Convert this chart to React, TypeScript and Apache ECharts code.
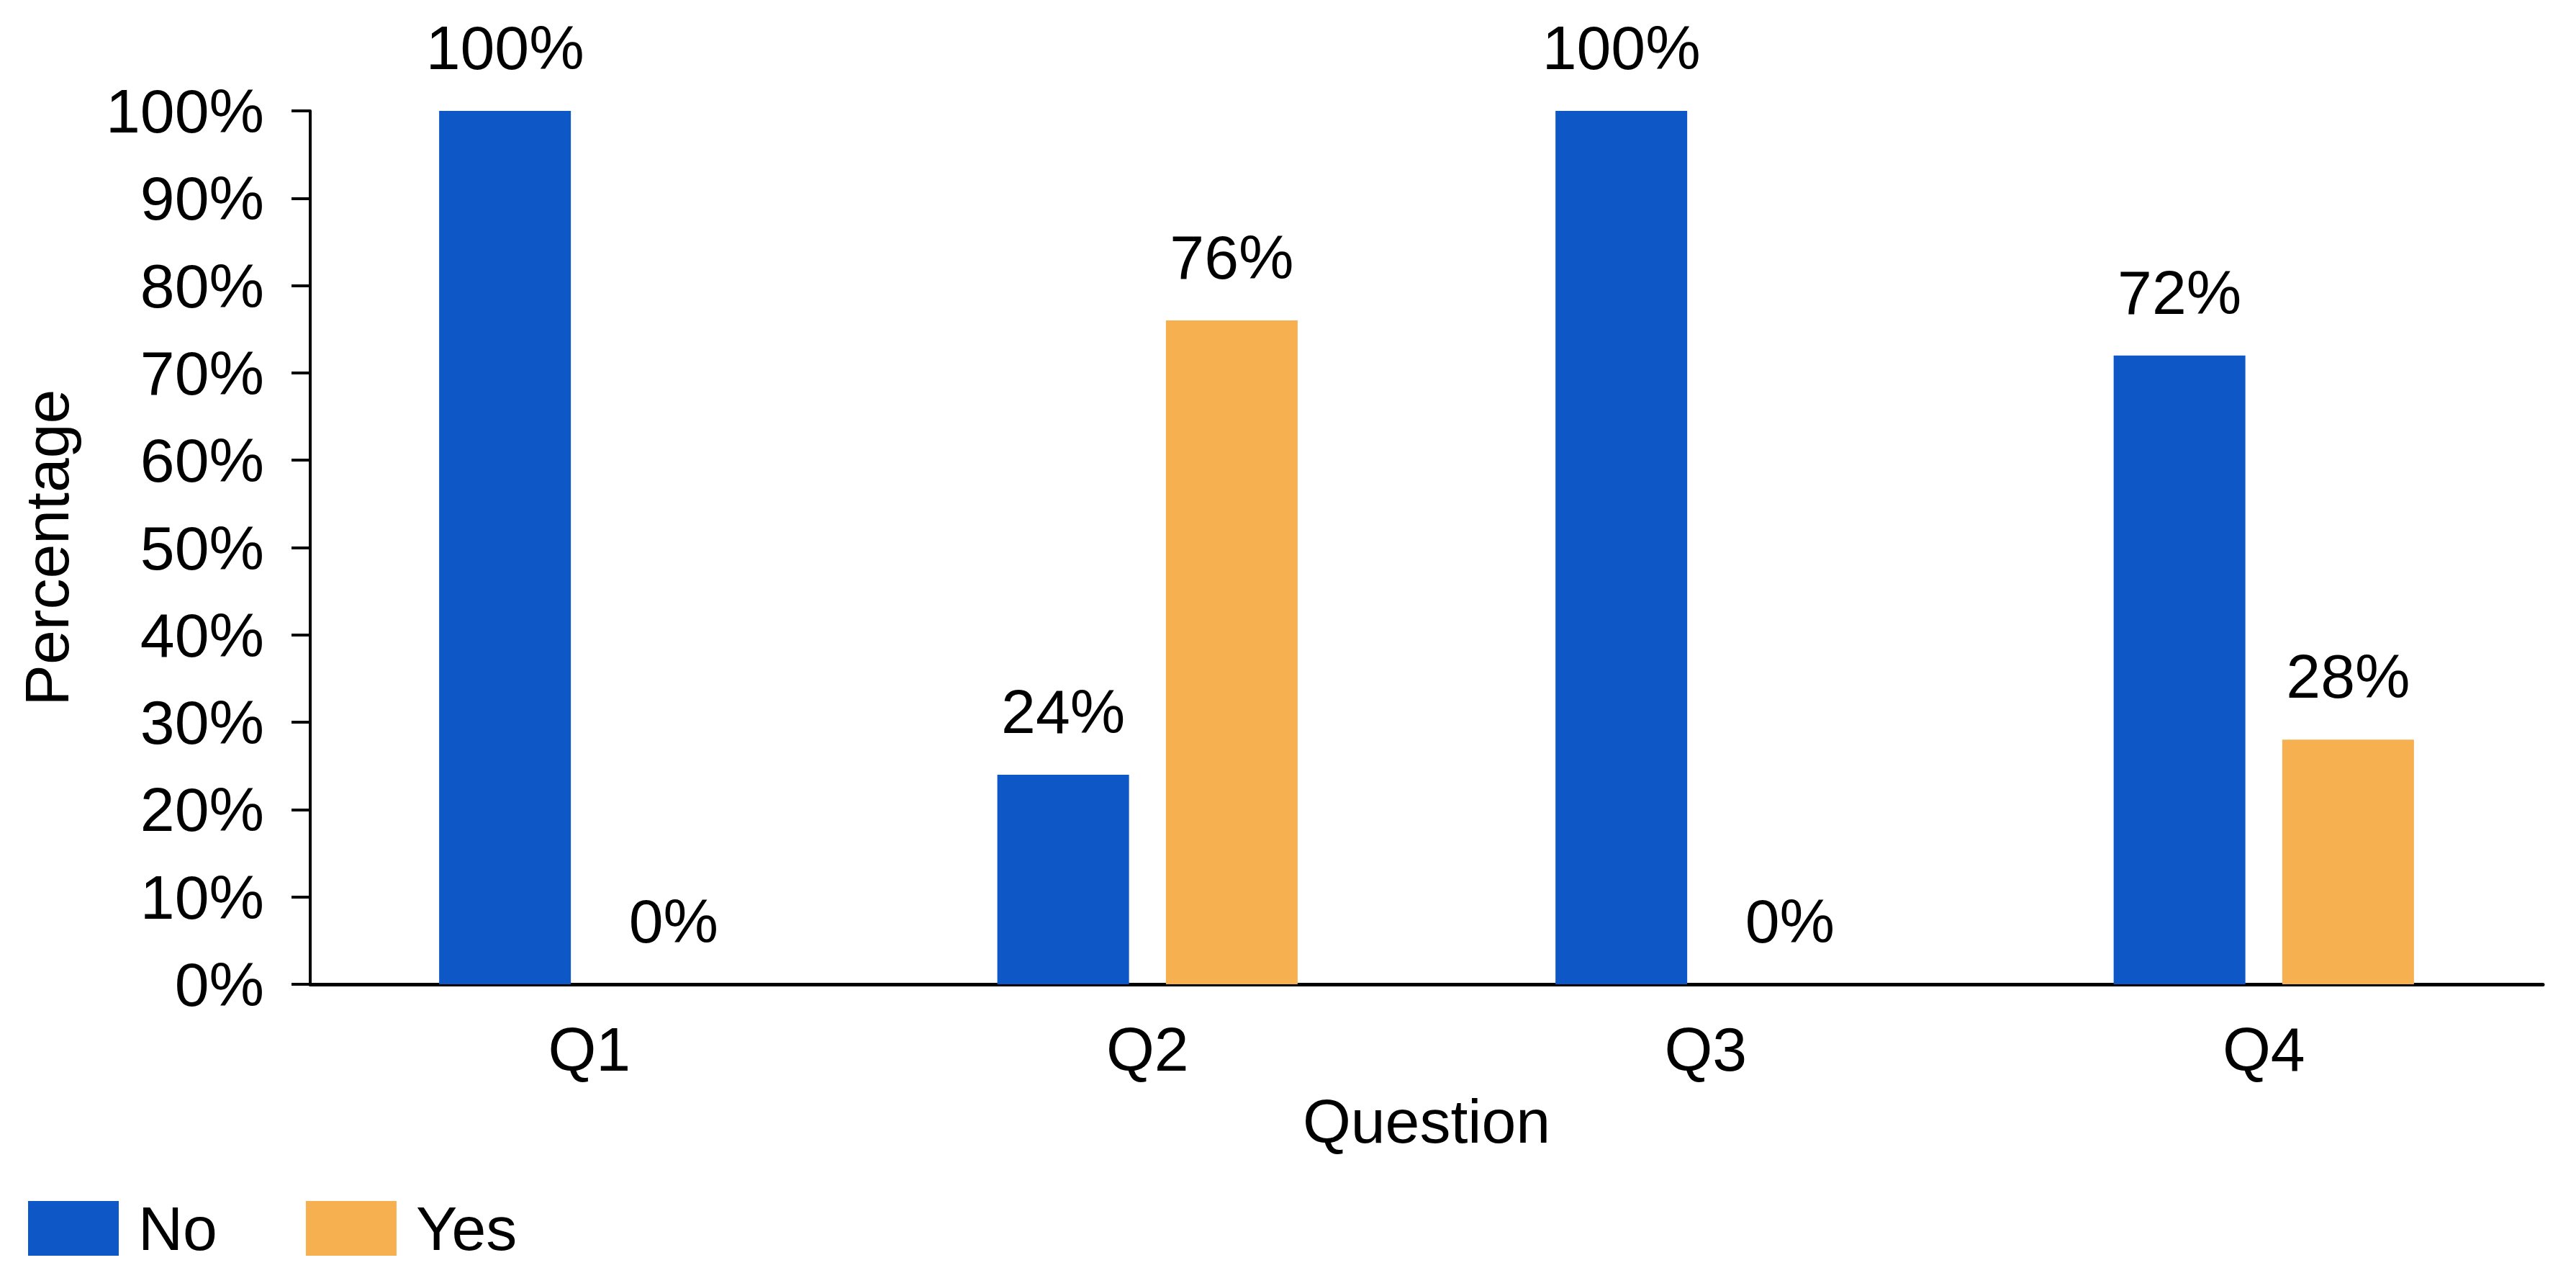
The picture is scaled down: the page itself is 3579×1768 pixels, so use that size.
import React, { useEffect, useRef } from "react";
import * as echarts from "echarts";

const categories = ["Q1", "Q2", "Q3", "Q4"];
const noValues = [100, 24, 100, 72];
const yesValues = [0, 76, 0, 28];
const seriesNames = ["No", "Yes"];
const colors = ["#0e57c6", "#f7b04f"];
const yTicks = { min: 0, max: 100, interval: 10 };

const FONT = "Liberation Sans, Arial, Helvetica, sans-serif";
const FS = 86;

export default function App() {
  const ref = useRef<HTMLDivElement>(null);
  useEffect(() => {
    if (!ref.current) return;
    const chart = echarts.init(ref.current, null, { renderer: "svg" });
    const labelCfg = {
      show: true,
      position: "top",
      distance: 45,
      formatter: "{c}%",
      color: "#000",
      fontSize: FS,
      fontFamily: FONT,
    };
    chart.setOption({
      animation: false,
      backgroundColor: "#fff",
      color: colors,
      textStyle: { fontFamily: FONT },
      grid: { left: 431, right: 46, top: 154, bottom: 401, containLabel: false },
      legend: {
        left: 34,
        top: 1658,
        itemWidth: 126,
        itemHeight: 76,
        itemGap: 123,
        icon: "rect",
        data: seriesNames,
        textStyle: { fontSize: FS, fontFamily: FONT, color: "#000", padding: [0, 0, 0, 22] },
      },
      xAxis: {
        type: "category",
        data: categories,
        name: "Question",
        nameLocation: "middle",
        nameGap: 147,
        nameTextStyle: { fontSize: FS, fontFamily: FONT, color: "#000" },
        axisLine: { show: true, lineStyle: { color: "#000", width: 5 } },
        axisTick: { show: false },
        axisLabel: { margin: 47, fontSize: FS, fontFamily: FONT, color: "#000" },
      },
      yAxis: {
        type: "value",
        min: yTicks.min,
        max: yTicks.max,
        interval: yTicks.interval,
        name: "Percentage",
        nameLocation: "middle",
        nameGap: 323,
        nameTextStyle: { fontSize: FS, fontFamily: FONT, color: "#000" },
        axisLine: { show: true, lineStyle: { color: "#000", width: 4 } },
        axisTick: { show: true, length: 26, lineStyle: { color: "#000", width: 4 } },
        splitLine: { show: false },
        axisLabel: { margin: 64, fontSize: FS, fontFamily: FONT, color: "#000", formatter: "{value}%" },
      },
      series: [
        {
          name: seriesNames[0],
          type: "bar",
          data: noValues,
          barWidth: 183,
          barGap: "28%",
          label: labelCfg,
        },
        {
          name: seriesNames[1],
          type: "bar",
          data: yesValues,
          barWidth: 183,
          barGap: "28%",
          label: labelCfg,
        },
      ],
    });
    return () => chart.dispose();
  }, []);
  return (
    <div
      ref={ref}
      style={{ position: "fixed", left: 0, top: 0, width: 3579, height: 1768, background: "#fff" }}
    />
  );
}
